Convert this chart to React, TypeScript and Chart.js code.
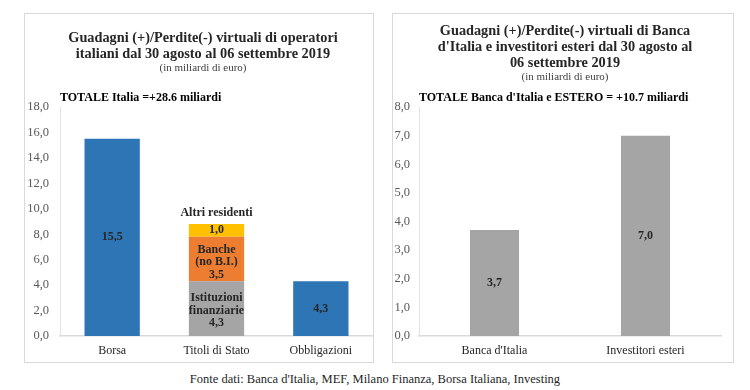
import React, { useEffect, useRef } from "react";
import { Chart, registerables } from "chart.js";

Chart.register(...registerables);

// ---------- Data ----------
const leftCategories = ["Borsa", "Titoli di Stato", "Obbligazioni"];
const directValues: (number | null)[] = [15.5, null, 4.3];
const istituzioniValues: (number | null)[] = [null, 4.3, null];
const bancheValues: (number | null)[] = [null, 3.5, null];
const altriValues: (number | null)[] = [null, 1.0, null];

const rightCategories = ["Banca d'Italia", "Investitori esteri"];
const rightValues = [3.7, 7.0];

const leftTitle = ["Guadagni (+)/Perdite(-) virtuali di operatori", "italiani dal 30 agosto al 06 settembre 2019"];
const rightTitle = ["Guadagni (+)/Perdite(-) virtuali di Banca", "d'Italia e investitori esteri dal 30 agosto al", "06 settembre 2019"];
const subtitleText = "(in miliardi di euro)";
const leftTotal = "TOTALE Italia =+28.6 miliardi";
const rightTotal = "TOTALE Banca d'Italia e ESTERO = +10.7 miliardi";
const footerText = "Fonte dati: Banca d'Italia, MEF, Milano Finanza, Borsa Italiana, Investing";

const FONT = "'Liberation Serif', 'Times New Roman', serif";
const fmt = (v: number) => v.toFixed(1).replace(".", ",");

// Draws titles, subtitle, bar value labels and the "TOTALE" note
const labelPlugin = {
  id: "segLabels",
  afterDraw(chart: any, _args: any, opts: any) {
    const ctx = chart.ctx;
    ctx.save();
    const cx = chart.width / 2 + (opts.titleShift || 0);
    ctx.textAlign = "center";
    ctx.textBaseline = "middle";
    ctx.fillStyle = "#262626";
    ctx.font = `bold 14.3px ${FONT}`;
    (opts.title || []).forEach((t: string, k: number) => ctx.fillText(t, cx, opts.titleTop + k * 16));
    ctx.font = `11px ${FONT}`;
    ctx.fillStyle = "#404040";
    ctx.fillText(subtitleText, cx, opts.titleTop + (opts.title || []).length * 16 - 1.5);

    ctx.fillStyle = "#262626";
    ctx.font = `bold 12px ${FONT}`;
    const lh = 12.5;
    chart.data.datasets.forEach((ds: any, di: number) => {
      const meta = chart.getDatasetMeta(di);
      meta.data.forEach((el: any, i: number) => {
        const v = ds.data[i];
        if (v == null) return;
        const lines = [...(ds.prefixLines || []), fmt(v)];
        const cy = (el.y + el.base) / 2 + (ds.labelShift || 0);
        const start = cy - ((lines.length - 1) * lh) / 2;
        lines.forEach((t: string, k: number) => ctx.fillText(t, el.x, start + k * lh));
        if (ds.topLabel) {
          ctx.fillText(ds.topLabel, el.x, el.y - 11);
        }
      });
    });
    if (opts.total) {
      ctx.textAlign = "left";
      ctx.fillStyle = "#000";
      ctx.fillText(opts.total, chart.chartArea.left, chart.chartArea.top - 9);
    }
    ctx.restore();
  },
};

function makeOptions(
  title: string[],
  titleTop: number,
  titleShift: number,
  total: string,
  max: number,
  step: number,
  stacked: boolean,
  yWidth: number,
  yPad: number,
  rightPad: number
) {
  return {
    animation: false,
    responsive: true,
    maintainAspectRatio: false,
    layout: { padding: { left: 0, right: rightPad, bottom: 0, top: 93 } },
    plugins: {
      legend: { display: false },
      tooltip: { enabled: false },
      title: { display: false },
      subtitle: { display: false },
      segLabels: { total, title, titleTop, titleShift },
    },
    scales: {
      x: {
        stacked,
        grid: { display: false, drawTicks: false },
        border: { display: true, color: "#d9d9d9", width: 1.5 },
        ticks: { color: "#262626", font: { family: FONT, size: 12 }, padding: 8 },
        afterFit: (s: any) => {
          s.height = 26;
        },
      },
      y: {
        stacked,
        min: 0,
        max,
        grid: { display: false, drawTicks: false },
        border: { display: true, color: "#e3e3e3", width: 1 },
        ticks: {
          stepSize: step,
          color: "#595959",
          font: { family: FONT, size: 12.5 },
          padding: yPad,
          callback: (v: any) => fmt(Number(v)),
        },
        afterFit: (s: any) => {
          s.width = yWidth;
        },
      },
    },
  };
}

function LeftChart() {
  const ref = useRef<HTMLCanvasElement>(null);
  useEffect(() => {
    const common = { barPercentage: 0.53, categoryPercentage: 1, borderWidth: 0 };
    const chart = new Chart(ref.current!, {
      type: "bar",
      data: {
        labels: leftCategories,
        datasets: [
          { ...common, data: directValues, backgroundColor: "#2e75b6" } as any,
          { ...common, data: istituzioniValues, backgroundColor: "#a5a5a5", prefixLines: ["Istituzioni", "finanziarie"], labelShift: 2 } as any,
          { ...common, data: bancheValues, backgroundColor: "#ed7d31", prefixLines: ["Banche", "(no B.I.)"], labelShift: 3 } as any,
          { ...common, data: altriValues, backgroundColor: "#ffc000", topLabel: "Altri residenti" } as any,
        ],
      },
      options: makeOptions(leftTitle, 24, 4, leftTotal, 18, 2, true, 35, 11, 0) as any,
      plugins: [labelPlugin],
    });
    return () => chart.destroy();
  }, []);
  return <canvas ref={ref} />;
}

function RightChart() {
  const ref = useRef<HTMLCanvasElement>(null);
  useEffect(() => {
    const chart = new Chart(ref.current!, {
      type: "bar",
      data: {
        labels: rightCategories,
        datasets: [
          { data: rightValues, backgroundColor: "#a5a5a5", barPercentage: 0.325, categoryPercentage: 1, borderWidth: 0 } as any,
        ],
      },
      options: makeOptions(rightTitle, 17, 2, rightTotal, 8, 1, false, 26, 9, 12) as any,
      plugins: [labelPlugin],
    });
    return () => chart.destroy();
  }, []);
  return <canvas ref={ref} />;
}

export default function App() {
  const panel: React.CSSProperties = {
    position: "absolute",
    top: 13,
    height: 350,
    border: "1px solid #d9d9d9",
    background: "#fff",
    boxSizing: "border-box",
  };
  return (
    <div style={{ position: "fixed", left: 0, top: 0, width: 750, height: 390, background: "#fff", fontFamily: FONT }}>
      <div style={{ ...panel, left: 24, width: 350 }}>
        <div style={{ position: "relative", width: "100%", height: "100%" }}>
          <LeftChart />
        </div>
      </div>
      <div style={{ ...panel, left: 392, width: 342 }}>
        <div style={{ position: "relative", width: "100%", height: "100%" }}>
          <RightChart />
        </div>
      </div>
      <div style={{ position: "absolute", left: 0, width: 750, top: 372, textAlign: "center", fontSize: 12.5, color: "#262626" }}>
        {footerText}
      </div>
    </div>
  );
}
